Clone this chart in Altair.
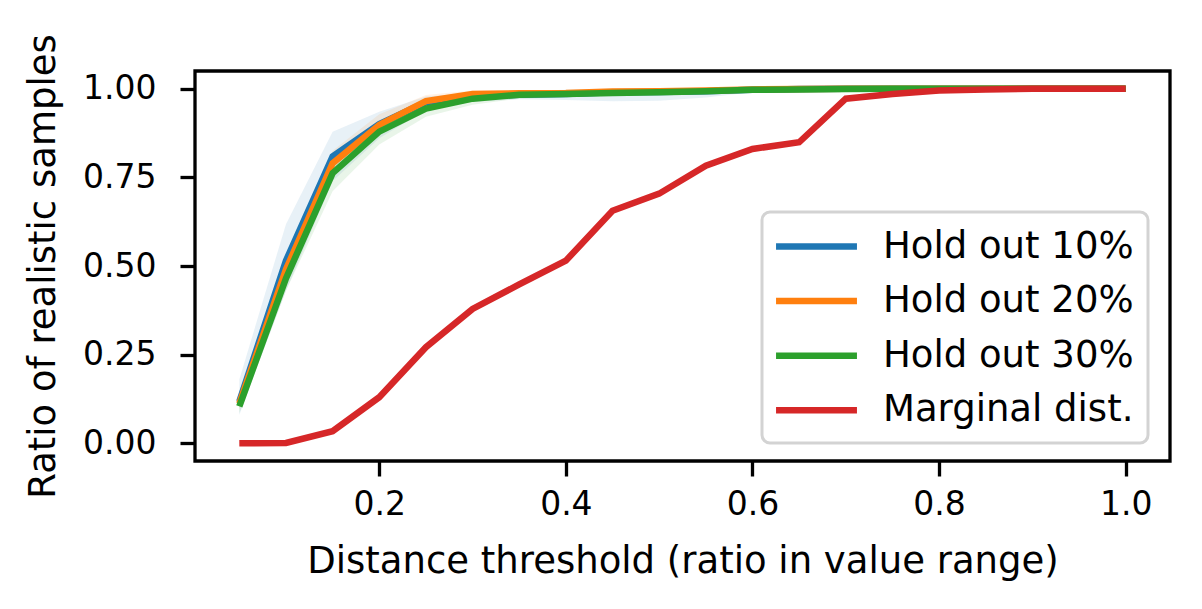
import altair as alt
import pandas as pd

thresholds = [0.05, 0.10, 0.15, 0.20, 0.25, 0.30, 0.35, 0.40, 0.45, 0.50,
              0.55, 0.60, 0.65, 0.70, 0.75, 0.80, 0.85, 0.90, 0.95, 1.00]

series_names = ["Hold out 10%", "Hold out 20%", "Hold out 30%", "Marginal dist."]
series_colors = ["#1f77b4", "#ff7f0e", "#2ca02c", "#d62728"]

hold10_mean = [0.118, 0.515, 0.809, 0.900, 0.962, 0.978, 0.983, 0.985, 0.990, 0.991,
               0.993, 0.997, 0.999, 1.000, 1.000, 1.000, 1.000, 1.000, 1.000, 1.000]
hold10_lo = [0.080, 0.430, 0.740, 0.860, 0.940, 0.963, 0.970, 0.968, 0.965, 0.966,
             0.975, 0.990, 0.996, 0.998, 0.999, 1.000, 1.000, 1.000, 1.000, 1.000]
hold10_hi = [0.180, 0.618, 0.879, 0.935, 0.978, 0.988, 0.993, 0.997, 0.999, 1.000,
             1.000, 1.000, 1.000, 1.000, 1.000, 1.000, 1.000, 1.000, 1.000, 1.000]

hold20_mean = [0.112, 0.490, 0.790, 0.898, 0.965, 0.985, 0.987, 0.988, 0.992, 0.993,
               0.995, 0.998, 0.999, 1.000, 1.000, 1.000, 1.000, 1.000, 1.000, 1.000]
hold20_lo = [0.095, 0.460, 0.755, 0.870, 0.945, 0.972, 0.978, 0.980, 0.986, 0.988,
             0.991, 0.995, 0.998, 0.999, 1.000, 1.000, 1.000, 1.000, 1.000, 1.000]
hold20_hi = [0.130, 0.520, 0.825, 0.928, 0.982, 0.995, 0.996, 0.996, 0.998, 0.998,
             0.999, 1.000, 1.000, 1.000, 1.000, 1.000, 1.000, 1.000, 1.000, 1.000]

hold30_mean = [0.104, 0.465, 0.762, 0.879, 0.944, 0.972, 0.983, 0.985, 0.988, 0.990,
               0.993, 0.997, 0.998, 0.999, 1.000, 1.000, 1.000, 1.000, 1.000, 1.000]
hold30_lo = [0.085, 0.430, 0.711, 0.843, 0.921, 0.955, 0.972, 0.976, 0.980, 0.984,
             0.988, 0.994, 0.996, 0.998, 0.999, 1.000, 1.000, 1.000, 1.000, 1.000]
hold30_hi = [0.122, 0.500, 0.800, 0.910, 0.965, 0.986, 0.992, 0.993, 0.995, 0.996,
             0.998, 1.000, 1.000, 1.000, 1.000, 1.000, 1.000, 1.000, 1.000, 1.000]

marginal_mean = [0.000, 0.001, 0.034, 0.130, 0.271, 0.379, 0.448, 0.515, 0.656, 0.704,
                 0.783, 0.830, 0.849, 0.972, 0.985, 0.995, 0.998, 1.000, 1.000, 1.000]
marginal_lo = [0.000, 0.000, 0.028, 0.122, 0.262, 0.370, 0.440, 0.507, 0.648, 0.697,
               0.776, 0.823, 0.843, 0.967, 0.981, 0.992, 0.997, 0.999, 1.000, 1.000]
marginal_hi = [0.002, 0.003, 0.040, 0.138, 0.280, 0.388, 0.458, 0.525, 0.664, 0.711,
               0.790, 0.837, 0.855, 0.977, 0.989, 0.998, 0.999, 1.000, 1.000, 1.000]

means = [hold10_mean, hold20_mean, hold30_mean, marginal_mean]
los = [hold10_lo, hold20_lo, hold30_lo, marginal_lo]
his = [hold10_hi, hold20_hi, hold30_hi, marginal_hi]

rows = []
for name, m, lo, hi in zip(series_names, means, los, his):
    for x, a, b, c in zip(thresholds, m, lo, hi):
        rows.append({"x": x, "series": name, "mean": a, "lo": b, "hi": c})
df = pd.DataFrame(rows)

FONT = "DejaVu Sans"
FS = 33
TFS = 37

color_scale = alt.Scale(domain=series_names, range=series_colors)
legend = alt.Legend(
    title=None, orient="none", legendX=567, legendY=141,
    symbolType="M-2.38,0H2.38", symbolSize=1156,
    symbolStrokeWidth=6.5, symbolOffset=20, symbolOpacity=1,
    labelOffset=46, labelFontSize=TFS, labelFont=FONT,
    labelColor="black", labelLimit=600,
    padding=14, rowPadding=15.6,
    fillColor="white", strokeColor="#d3d3d3",
    cornerRadius=8)

x_enc = alt.X("x:Q",
              scale=alt.Scale(domain=[0.0025, 1.0475], nice=False, zero=False),
              axis=alt.Axis(values=[0.2, 0.4, 0.6, 0.8, 1.0], format=".1f",
                            title="Distance threshold (ratio in value range)"))

bands = alt.Chart(df).mark_area(opacity=0.1, clip=True).encode(
    x=x_enc,
    y=alt.Y("lo:Q"),
    y2="hi:Q",
    color=alt.Color("series:N", scale=color_scale, legend=legend),
)

lines = alt.Chart(df).mark_line(strokeWidth=6.5, clip=True).encode(
    x=x_enc,
    y=alt.Y("mean:Q",
            scale=alt.Scale(domain=[-0.05, 1.05], nice=False, zero=False),
            axis=alt.Axis(values=[0.0, 0.25, 0.5, 0.75, 1.0], format=".2f",
                          title="Ratio of realistic samples")),
    color=alt.Color("series:N", scale=color_scale, legend=legend),
)

chart = alt.layer(bands, lines).properties(
    width=975, height=390,
    autosize=alt.AutoSizeParams(type="none"),
    padding={"left": 187, "top": 63, "right": 24, "bottom": 140},
).configure_view(
    stroke="black", strokeWidth=3.3, fill="white"
).configure_axis(
    domain=False, grid=False,
    ticks=True, tickSize=15, tickWidth=3.3, tickColor="black",
    labelFont=FONT, labelFontSize=FS, labelColor="black",
    titleFont=FONT, titleFontSize=TFS, titleFontWeight="normal", titleColor="black",
).configure_axisX(titlePadding=22, labelPadding=12
).configure_axisY(titlePadding=20, labelPadding=24
).configure_legend(strokeWidth=3)

chart.save("out.html", embed_options={"renderer": "svg", "actions": False})
